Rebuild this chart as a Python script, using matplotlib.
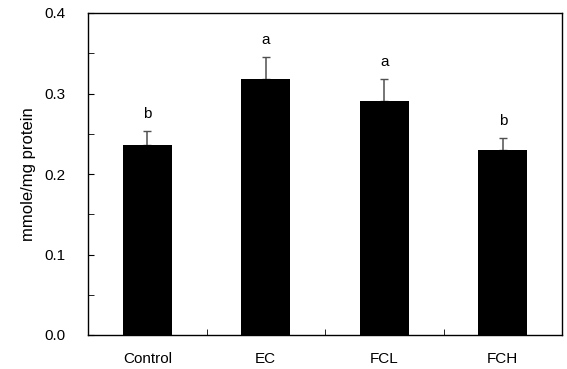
import matplotlib

matplotlib.use("Agg")

import matplotlib.pyplot as plt
import numpy as np

plt.rcParams["font.family"] = ["Liberation Sans", "DejaVu Sans"]

GROUPS = ["Control", "EC", "FCL", "FCH"]
MEANS = [0.236, 0.318, 0.291, 0.230]
ERRORS = [0.017, 0.027, 0.027, 0.015]
LETTERS = ["b", "a", "a", "b"]
Y_TICKS = [0.0, 0.1, 0.2, 0.3, 0.4]


def main():
    fig = plt.figure(figsize=(5.67, 3.69), dpi=100)
    ax = fig.add_axes([88 / 567, 1 - 335 / 369, 474 / 567, 322 / 369])

    x = np.arange(len(GROUPS)) + 0.5
    ax.bar(x, MEANS, width=0.41, color="black", zorder=2)
    ax.errorbar(
        x, MEANS, yerr=[np.zeros(len(ERRORS)), ERRORS], fmt="none",
        ecolor="#505050", elinewidth=1.1, capsize=3, capthick=1.0, zorder=1,
    )
    for xi, m, e, lab in zip(x, MEANS, ERRORS, LETTERS):
        ax.text(xi, m + e + 0.021, lab, ha="center", va="center", fontsize=11)

    ax.set_xlim(0, 4)
    ax.set_ylim(0, 0.4)
    ax.set_xticks(x)
    ax.set_xticklabels(GROUPS)
    ax.set_xticks([1, 2, 3], minor=True)
    ax.set_yticks(Y_TICKS)
    ax.set_yticklabels([f"{v:.1f}" for v in Y_TICKS])
    ax.set_yticks(np.arange(0.05, 0.4, 0.1), minor=True)
    ax.tick_params(axis="x", which="major", length=0, pad=12, labelsize=11)
    ax.tick_params(axis="x", which="minor", direction="in", length=4)
    ax.tick_params(axis="y", which="both", direction="in", length=4, pad=16, labelsize=11)
    ax.set_ylabel("mmole/mg protein", fontsize=12, labelpad=6)
    for s in ax.spines.values():
        s.set_linewidth(1.0)

    fig.savefig("out.png", dpi=100)
    plt.close(fig)


if __name__ == "__main__":
    main()
